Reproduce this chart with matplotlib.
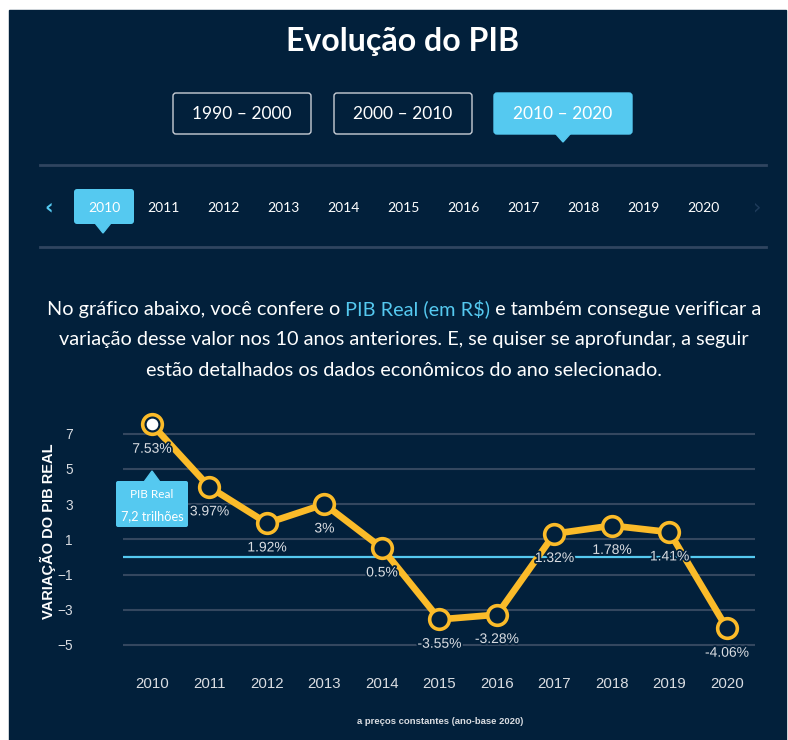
import matplotlib
matplotlib.use('Agg')
import matplotlib.pyplot as plt
import matplotlib.patheffects as pe
from matplotlib.patches import FancyBboxPatch, Polygon, Rectangle

# dados
anos = [2010, 2011, 2012, 2013, 2014, 2015, 2016, 2017, 2018, 2019, 2020]
variacao = [7.53, 3.97, 1.92, 3.0, 0.5, -3.55, -3.28, 1.32, 1.78, 1.41, -4.06]
rotulos = ['7.53%', '3.97%', '1.92%', '3%', '0.5%', '-3.55%', '-3.28%', '1.32%', '1.78%', '1.41%', '-4.06%']
yticks = [7, 5, 3, 1, -1, -3, -5]
periodos = ['1990 – 2000', '2000 – 2010', '2010 – 2020']
texto = [
    [('No gráfico abaixo, você confere o ', 'w'), ('PIB Real (em R$)', 'b'), (' e também consegue verificar a', 'w')],
    [('variação desse valor nos 10 anos anteriores. E, se quiser se aprofundar, a seguir', 'w')],
    [('estão detalhados os dados econômicos do ano selecionado.', 'w')],
]

BG = '#02203b'
AZUL = '#55c9f0'
AMARELO = '#fbbb29'
GRADE = '#34475f'
CINZA = '#dadde2'

W, H = 788, 740
fig = plt.figure(figsize=(W / 100, H / 100), dpi=100, facecolor='white')

# fundo em coordenadas de pixel
bg = fig.add_axes([0, 0, 1, 1])
bg.set_xlim(0, W)
bg.set_ylim(H, 0)
bg.axis('off')
bg.add_patch(Rectangle((9, 10), 777, 740, color=BG, zorder=0))

bg.text(403, 42, 'Evolução do PIB', color='white', fontsize=23, fontweight='bold',
        family='Lato', ha='center', va='center')

# botões dos períodos
bx = [173, 334, 494]
for i, (x0, p) in enumerate(zip(bx, periodos)):
    ativo = i == 2
    bg.add_patch(FancyBboxPatch((x0, 93), 138, 41, boxstyle='round,pad=0,rounding_size=3',
                                fc=AZUL if ativo else BG, ec=AZUL if ativo else '#c9ced6', lw=1))
    bg.text(x0 + 69, 114, p, color='white', fontsize=12.5, family='Lato', ha='center', va='center')
bg.add_patch(Polygon([[555, 133], [571, 133], [563, 142]], color=AZUL))

# linhas separadoras
for y in [165, 247]:
    bg.plot([40, 766], [y, y], color='#2f4560', lw=2)

# navegação de anos
bg.text(49, 207, '‹', color=AZUL, fontsize=15, fontweight='bold', ha='center', va='center')
bg.text(757, 207, '›', color='#1e3b5a', fontsize=15, ha='center', va='center')
bg.add_patch(FancyBboxPatch((74, 189), 60, 35, boxstyle='round,pad=0,rounding_size=3', fc=AZUL, ec='none'))
bg.add_patch(Polygon([[95, 223], [111, 223], [103, 233]], color=AZUL))
for i, a in enumerate(anos):
    bg.text(104 + 59.9 * i, 208, str(a), color='white', fontsize=10, family='Lato',
            ha='center', va='center')

# parágrafo com trecho em azul
fig.canvas.draw()
r = fig.canvas.get_renderer()
for k, linha in enumerate(texto):
    y = 309 + 31 * k
    objs = []
    for s, c in linha:
        t = bg.text(0, y, s, color=AZUL if c == 'b' else 'white', fontsize=14.3,
                    family='Lato', ha='left', va='center')
        objs.append(t)
    larg = [t.get_window_extent(r).width for t in objs]
    x = 404 - sum(larg) / 2
    for t, w in zip(objs, larg):
        t.set_x(x)
        x += w

# gráfico
ax = fig.add_axes([123 / W, 1 - 665 / H, (755 - 123) / W, (665 - 410) / H])
ax.set_facecolor('none')
ax.set_xlim(2009.496, 2020.487)
ax.set_ylim(-6.14, 8.35)
for s in ax.spines.values():
    s.set_visible(False)
ax.set_yticks(yticks)
ax.set_xticks(anos)
ax.yaxis.grid(True, color=GRADE, lw=1.5)
ax.set_axisbelow(True)
ax.tick_params(axis='y', length=0, pad=36, labelcolor=CINZA, labelsize=9.8)
ax.tick_params(axis='x', length=0, pad=9, labelcolor=CINZA, labelsize=10.8)
for lb in ax.get_xticklabels() + ax.get_yticklabels():
    lb.set_family('Liberation Sans')
ax.axhline(0, color=AZUL, lw=1.6, zorder=1)

ax.plot(anos, variacao, color=AMARELO, lw=4.8, zorder=3, solid_joinstyle='round')
ax.scatter(anos, variacao, s=200, c=BG, edgecolors=AMARELO, linewidths=2.6, zorder=4)
ax.scatter(anos[:1], variacao[:1], s=55, c='white', zorder=5)
for a, v, t in zip(anos, variacao, rotulos):
    ax.annotate(t, (a, v), xytext=(0, -17.5), textcoords='offset points', ha='center',
                va='center', color=CINZA, fontsize=10, family='Liberation Sans', zorder=6,
                path_effects=[pe.withStroke(linewidth=2.5, foreground=BG)])

fig.text(48 / W, 1 - 531 / H, 'VARIAÇÃO DO PIB REAL', rotation=90, color='white', fontsize=10.5,
         fontweight='bold', family='Liberation Sans', ha='center', va='center')
fig.text(440 / W, 1 - 722 / H, 'a preços constantes (ano-base 2020)', color=CINZA, fontsize=6.8,
         fontweight='bold', family='Liberation Sans', ha='center', va='center')

# tooltip
top = fig.add_axes([0, 0, 1, 1])
top.set_xlim(0, W)
top.set_ylim(H, 0)
top.axis('off')
top.patch.set_alpha(0)
top.add_patch(FancyBboxPatch((116, 481), 72, 46, boxstyle='round,pad=0,rounding_size=2', fc=AZUL, ec='none'))
top.add_patch(Polygon([[144, 482], [160, 482], [152, 471]], color=AZUL))
top.text(152, 494, 'PIB Real', color='white', fontsize=8.5, family='Lato', ha='center', va='center')
top.text(152, 516, '7,2 trilhões', color='white', fontsize=9.2, family='Lato', ha='center', va='center')

fig.savefig('out.png', dpi=100, facecolor='white')
